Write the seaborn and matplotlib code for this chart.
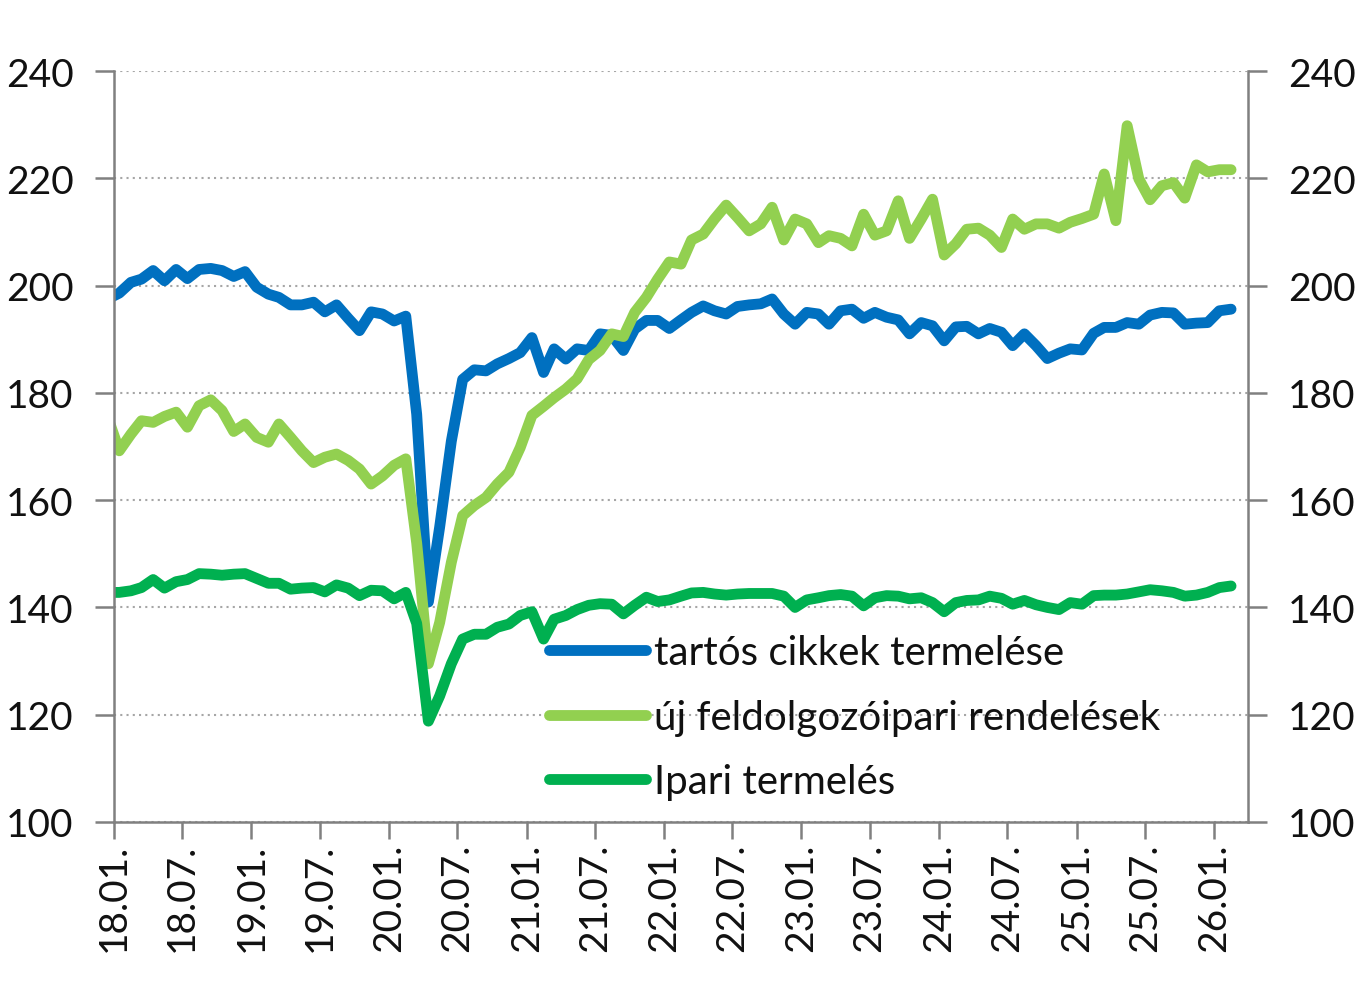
import pandas as pd
import seaborn as sns
import matplotlib.pyplot as plt
import matplotlib.dates as mdates

# monthly data, 2017-12 .. 2026-02 (first month is clipped by the axis)
dates = pd.date_range("2017-12-01", periods=99, freq="MS") + pd.Timedelta(days=14)

tartos = [197.5, 198.6, 200.6, 201.2, 202.8, 200.9, 203.0, 201.3, 203.0, 203.2,
          202.8, 201.7, 202.6, 199.7, 198.4, 197.8, 196.4, 196.4, 196.9, 195.1,
          196.4, 193.9, 191.6, 195.1, 194.7, 193.4, 194.3, 176.0, 141.0, 155.0,
          171.0, 182.5, 184.3, 184.1, 185.4, 186.4, 187.5, 190.3, 183.8, 188.2,
          186.3, 188.2, 187.9, 191.0, 190.7, 187.9, 191.9, 193.5, 193.5, 192.0,
          193.6, 195.0, 196.2, 195.3, 194.7, 196.1, 196.4, 196.6, 197.5, 194.7,
          192.8, 195.0, 194.7, 192.8, 195.3, 195.6, 193.9, 195.0, 194.1, 193.6,
          191.0, 193.1, 192.5, 189.7, 192.3, 192.4, 191.0, 192.0, 191.3, 188.8,
          191.0, 188.8, 186.4, 187.4, 188.2, 188.0, 191.1, 192.2, 192.2, 193.1,
          192.8, 194.5, 195.0, 194.9, 192.8, 193.0, 193.1, 195.3, 195.6]

rendeles = [175.5, 169.2, 172.3, 174.8, 174.5, 175.6, 176.4, 173.6, 177.6, 178.7,
            176.7, 172.8, 174.2, 171.7, 170.8, 174.2, 171.7, 169.2, 167.0, 168.0,
            168.6, 167.4, 165.8, 163.0, 164.5, 166.5, 167.7, 152.0, 129.5, 137.2,
            148.4, 157.1, 159.0, 160.5, 163.0, 165.2, 169.8, 175.8, 177.5, 179.1,
            180.7, 182.6, 186.2, 187.9, 191.0, 190.5, 195.0, 197.8, 201.2, 204.4,
            204.0, 208.5, 209.6, 212.4, 215.0, 212.7, 210.2, 211.5, 214.6, 208.5,
            212.4, 211.5, 208.0, 209.3, 208.8, 207.4, 213.3, 209.4, 210.2, 215.8,
            208.8, 212.4, 216.1, 205.7, 207.8, 210.5, 210.7, 209.4, 207.1, 212.4,
            210.5, 211.5, 211.5, 210.7, 211.8, 212.5, 213.3, 220.8, 212.1, 229.8,
            219.9, 216.0, 218.6, 219.2, 216.3, 222.5, 221.2, 221.6, 221.6]

ipari = [142.8, 142.8, 143.1, 143.7, 145.2, 143.6, 144.8, 145.2, 146.3, 146.2,
         146.0, 146.2, 146.3, 145.4, 144.5, 144.5, 143.4, 143.6, 143.7, 142.9,
         144.2, 143.6, 142.2, 143.2, 143.1, 141.6, 142.8, 137.0, 118.8, 123.5,
         129.5, 134.1, 135.0, 135.0, 136.3, 136.9, 138.5, 139.2, 134.1, 137.8,
         138.5, 139.6, 140.4, 140.7, 140.6, 138.8, 140.4, 141.9, 141.1, 141.4,
         142.1, 142.7, 142.8, 142.5, 142.3, 142.5, 142.6, 142.6, 142.6, 142.1,
         140.0, 141.4, 141.8, 142.2, 142.4, 142.1, 140.3, 141.8, 142.2, 142.1,
         141.6, 141.8, 140.9, 139.2, 140.9, 141.3, 141.4, 142.1, 141.7, 140.6,
         141.3, 140.5, 140.0, 139.6, 140.9, 140.6, 142.2, 142.3, 142.3, 142.5,
         142.9, 143.3, 143.1, 142.8, 142.1, 142.3, 142.8, 143.7, 144.0]

labels = ["tartós cikkek termelése", "új feldolgozóipari rendelések", "Ipari termelés"]
colors = ["#0070C0", "#92D050", "#00B050"]

df = pd.DataFrame({
    "datum": list(dates) * 3,
    "ertek": tartos + rendeles + ipari,
    "sor": [labels[0]] * len(dates) + [labels[1]] * len(dates) + [labels[2]] * len(dates),
})

sns.set_style("white")
plt.rcParams["font.family"] = ["Lato", "DejaVu Sans"]

fig = plt.figure(figsize=(13.64, 9.87), dpi=100)
ax = fig.add_axes([114 / 1364, 1 - 823 / 987, (1248 - 114) / 1364, (823 - 72) / 987])

sns.lineplot(data=df, x="datum", y="ertek", hue="sor", hue_order=labels,
             palette=colors, linewidth=7.8, solid_capstyle="round",
             solid_joinstyle="round", ax=ax)

ax.set_xlim(pd.Timestamp("2018-01-01"), pd.Timestamp("2026-04-01"))
ax.set_ylim(100, 240)
ax.set_yticks(range(100, 241, 20))
ax.set_xticks(pd.date_range("2018-01-01", "2026-01-01", freq="6MS"))
ax.xaxis.set_major_formatter(mdates.DateFormatter("%y.%m."))
ax.set_xlabel("")
ax.set_ylabel("")

ax.yaxis.grid(True, linestyle=(0, (1, 2)), color="#a6a6a6", linewidth=1.5)
ax.set_axisbelow(True)

for side in ["left", "right", "bottom"]:
    ax.spines[side].set_visible(True)
    ax.spines[side].set_color("#808080")
    ax.spines[side].set_linewidth(1.8)
ax.spines["top"].set_visible(False)

ax.tick_params(axis="y", left=True, right=True, labelleft=True, labelright=True,
               direction="out", length=14, width=1.8, color="#808080",
               pad=15, labelsize=28, labelcolor="#111111")
ax.tick_params(axis="x", bottom=True, direction="out", length=12, width=1.8,
               color="#808080", pad=3, labelsize=28, labelrotation=90,
               labelcolor="#111111")

handles, _ = ax.get_legend_handles_labels()
ax.legend(handles, labels, loc="upper left", bbox_to_anchor=(0.384, 0.25),
          frameon=False, fontsize=29, handlelength=2.4, handletextpad=0.2,
          labelspacing=0.68, borderpad=0, borderaxespad=0,
          labelcolor="#111111")

fig.savefig("out.png", dpi=100)
